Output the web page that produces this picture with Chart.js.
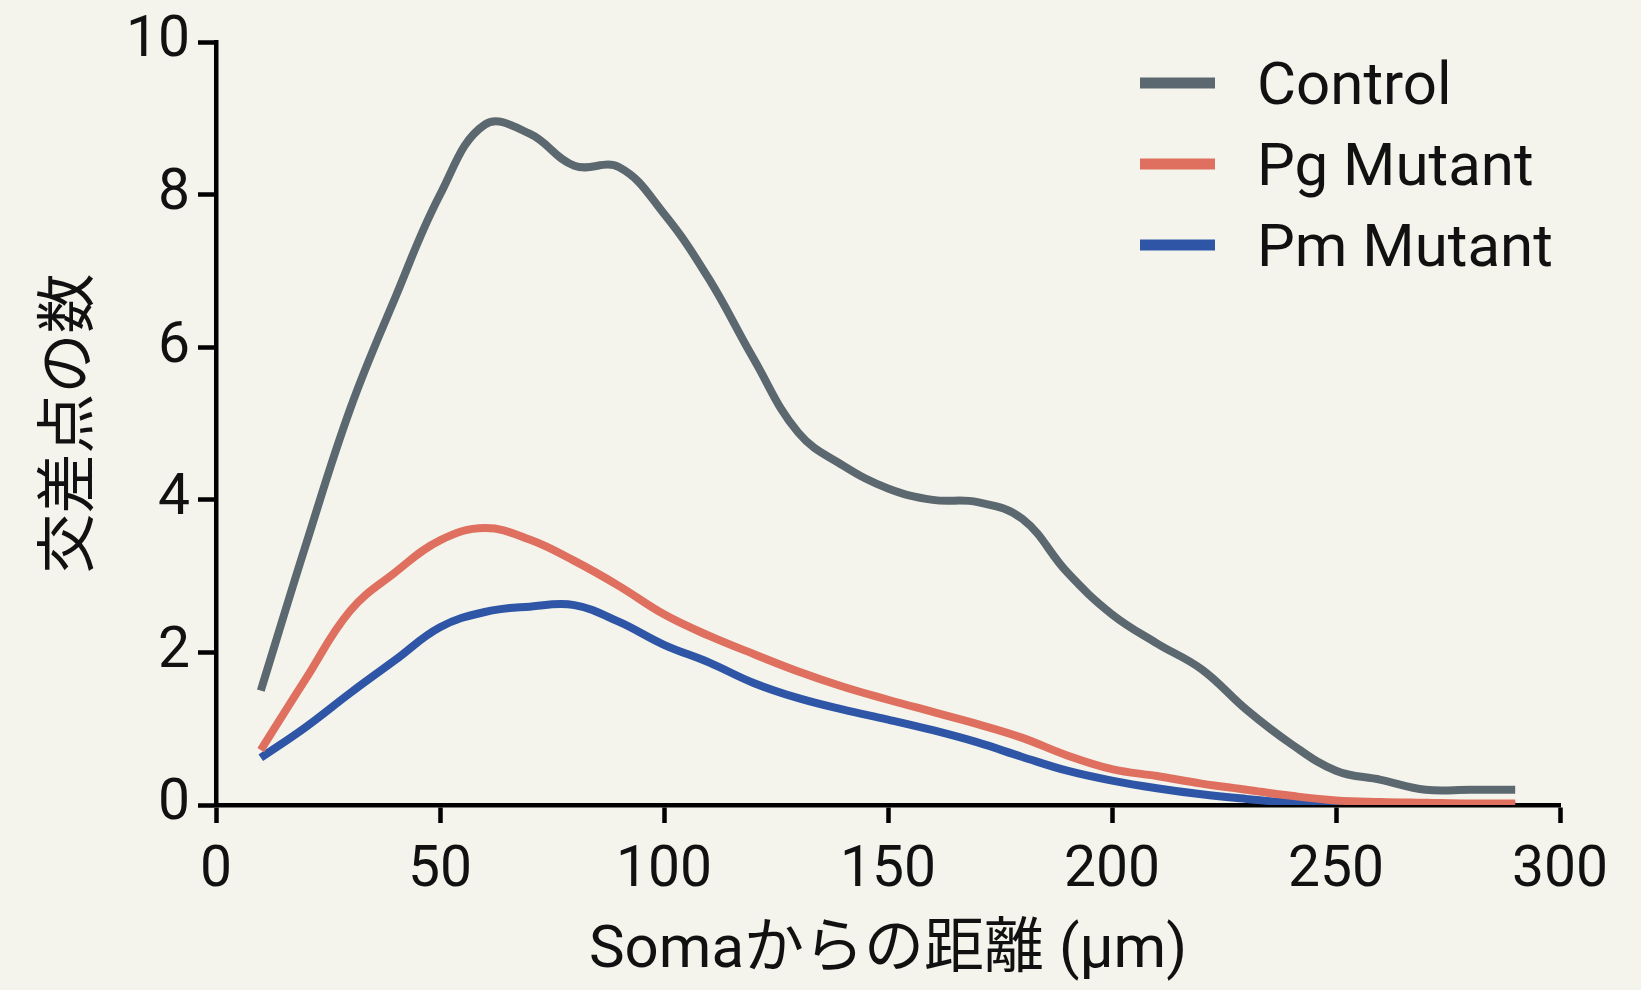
<!DOCTYPE html>
<html>
<head>
<meta charset="utf-8">
<script src="https://cdn.jsdelivr.net/npm/chart.js@4.4.1/dist/chart.umd.min.js"></script>
<style>
  html, body { margin: 0; padding: 0; background: #f4f4ec; }
  #wrap { width: 1641px; height: 990px; }
</style>
</head>
<body>
<div id="wrap"><canvas id="chart"></canvas></div>
<script>
  // distance from soma (µm)
  const distances = [10, 20, 30, 40, 50, 60, 70, 80, 90, 100, 110, 120, 130, 140, 150,
    160, 170, 180, 190, 200, 210, 220, 230, 240, 250, 260, 270, 280, 290];

  const controlValues = [1.5, 3.4, 5.2, 6.65, 8.0, 8.92, 8.8, 8.38, 8.36, 7.75, 6.9, 5.85, 4.88, 4.45, 4.15,
    4.0, 3.97, 3.75, 3.05, 2.5, 2.12, 1.78, 1.25, 0.8, 0.45, 0.33, 0.2, 0.2, 0.2];
  const pgValues = [0.72, 1.65, 2.55, 3.05, 3.47, 3.63, 3.48, 3.2, 2.87, 2.5, 2.22, 1.98, 1.75, 1.55, 1.38,
    1.22, 1.06, 0.88, 0.65, 0.47, 0.38, 0.28, 0.2, 0.12, 0.06, 0.04, 0.03, 0.02, 0.02];
  const pmValues = [0.62, 1.02, 1.47, 1.9, 2.33, 2.53, 2.6, 2.62, 2.4, 2.1, 1.87, 1.6, 1.4, 1.25, 1.12,
    0.98, 0.82, 0.63, 0.45, 0.32, 0.22, 0.14, 0.08, 0.03, 0.01, 0, 0, 0, 0];

  const seriesLabels = ['Control', 'Pg Mutant', 'Pm Mutant'];
  const seriesColors = ['#5c686f', '#df705f', '#2f55a6'];

  const xTitle = 'Somaからの距離 (μm)';
  const yTitle = '交差点の数';

  const FONT = "Roboto, 'Noto Sans CJK JP', sans-serif";

  const toPoints = vals => vals.map((v, i) => ({ x: distances[i], y: v }));

  // legend drawn top-right, stacked like the original
  const cornerLegend = {
    id: 'cornerLegend',
    afterDraw(chart) {
      const ctx = chart.ctx;
      ctx.save();
      ctx.font = '60px ' + FONT;
      ctx.textAlign = 'left';
      ctx.textBaseline = 'alphabetic';
      chart.data.datasets.forEach((ds, i) => {
        const y = 83 + i * 81;
        ctx.strokeStyle = ds.borderColor;
        ctx.lineWidth = 11;
        ctx.lineCap = 'butt';
        ctx.beginPath();
        ctx.moveTo(1140, y);
        ctx.lineTo(1215, y);
        ctx.stroke();
        ctx.fillStyle = '#111';
        ctx.fillText(ds.label, 1257, y + 21);
      });
      ctx.restore();
    }
  };

  new Chart(document.getElementById('chart'), {
    type: 'line',
    data: {
      datasets: [controlValues, pgValues, pmValues].map((vals, i) => ({
        label: seriesLabels[i],
        data: toPoints(vals),
        borderColor: seriesColors[i],
        backgroundColor: seriesColors[i],
        borderWidth: 8,
        pointRadius: 0,
        tension: 0.4,
        fill: false
      }))
    },
    options: {
      responsive: true,
      maintainAspectRatio: false,
      animation: false,
      layout: { padding: { top: 38, right: 81, left: 0, bottom: 0 } },
      plugins: {
        legend: { display: false },
        tooltip: { enabled: false }
      },
      scales: {
        x: {
          type: 'linear',
          min: 0,
          max: 300,
          afterFit: s => { s.height = 185; },
          border: { display: true, color: '#000', width: 4.5 },
          grid: { drawOnChartArea: false, drawTicks: true, tickLength: 18, tickColor: '#000', tickWidth: 4.5 },
          ticks: { stepSize: 50, color: '#111', padding: 15, font: { family: FONT, size: 57 } },
          title: {
            display: true, text: xTitle, color: '#111',
            font: { family: FONT, size: 60, lineHeight: 1 },
            padding: { top: 0, bottom: 8 }
          }
        },
        y: {
          min: 0,
          max: 10,
          afterFit: s => { s.width = 216; },
          border: { display: true, color: '#000', width: 4.5 },
          grid: { drawOnChartArea: false, drawTicks: true, tickLength: 18, tickColor: '#000', tickWidth: 4.5 },
          ticks: { stepSize: 2, color: '#111', padding: 8, font: { family: FONT, size: 57 } },
          title: {
            display: true, text: yTitle, color: '#111',
            font: { family: FONT, size: 60, lineHeight: 1 },
            padding: { top: 43, bottom: 0 }
          }
        }
      }
    },
    plugins: [cornerLegend]
  });
</script>
</body>
</html>
